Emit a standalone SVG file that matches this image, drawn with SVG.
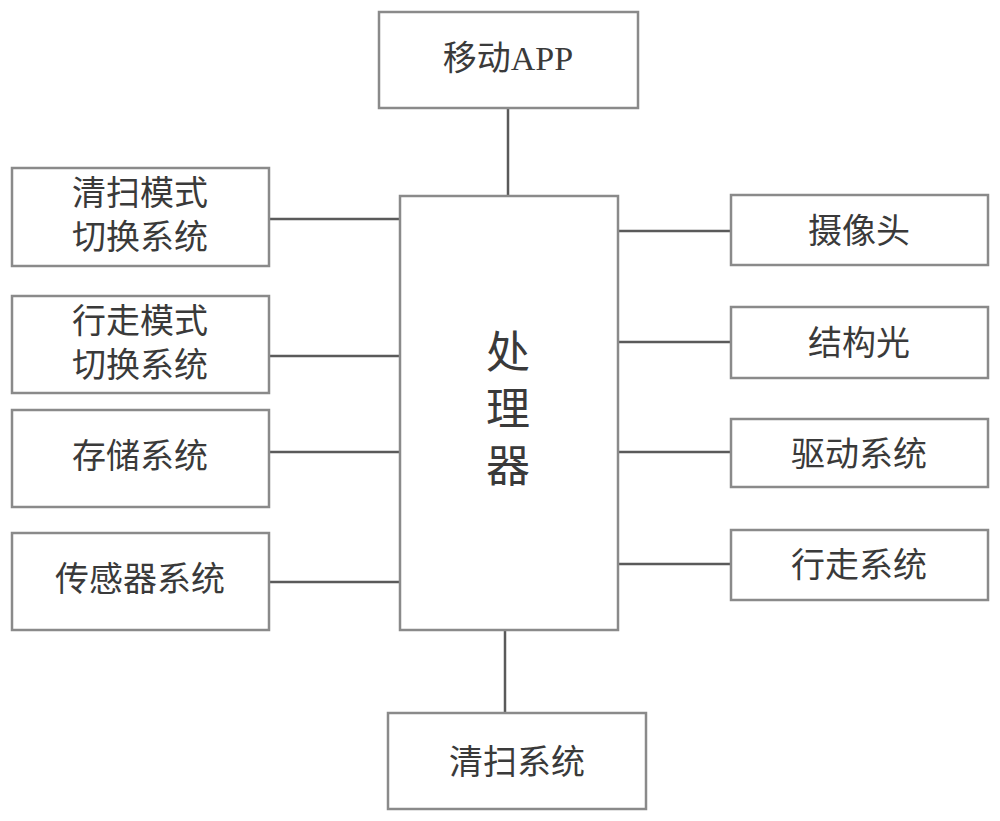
<svg xmlns="http://www.w3.org/2000/svg" width="1000" height="821" viewBox="0 0 1000 821">
<style>
.box{fill:#fff;stroke:#8a8a8a;stroke-width:2.5}
.ln{stroke:#5a5a5a;stroke-width:2.5;fill:none}
text{font-family:"Liberation Sans","Noto Sans CJK SC",sans-serif;font-size:34px;fill:#3a3a3a;text-anchor:middle;dominant-baseline:central}
.big{font-size:44px}
</style>
<rect width="1000" height="821" fill="#fff"/>
<g id="connectors">
<line class="ln" x1="508" y1="108" x2="508" y2="196"/>
<line class="ln" x1="269" y1="219" x2="400" y2="219"/>
<line class="ln" x1="269" y1="356" x2="400" y2="356"/>
<line class="ln" x1="269" y1="452" x2="400" y2="452"/>
<line class="ln" x1="269" y1="582" x2="400" y2="582"/>
<line class="ln" x1="618" y1="231" x2="731" y2="231"/>
<line class="ln" x1="618" y1="342" x2="731" y2="342"/>
<line class="ln" x1="618" y1="452" x2="731" y2="452"/>
<line class="ln" x1="618" y1="564" x2="731" y2="564"/>
<line class="ln" x1="505" y1="630" x2="505" y2="713"/>
</g>
<g id="app"><rect class="box" x="379" y="12" width="259" height="96"/><text x="508" y="58">移动<tspan font-family="'Liberation Serif',serif">APP</tspan></text></g>
<g id="processor"><rect class="box" x="400" y="196" width="218" height="434"/>
<text class="big" x="508" y="352">处</text><text class="big" x="508" y="409">理</text><text class="big" x="508" y="466">器</text></g>
<g id="clean-mode"><rect class="box" x="12" y="168" width="257" height="98"/><text x="140" y="193">清扫模式</text><text x="140" y="237">切换系统</text></g>
<g id="walk-mode"><rect class="box" x="12" y="296" width="257" height="97"/><text x="140" y="321">行走模式</text><text x="140" y="365">切换系统</text></g>
<g id="storage"><rect class="box" x="12" y="410" width="257" height="97"/><text x="140" y="456">存储系统</text></g>
<g id="sensor"><rect class="box" x="12" y="533" width="257" height="97"/><text x="140" y="579">传感器系统</text></g>
<g id="camera"><rect class="box" x="731" y="195" width="257" height="70"/><text x="859" y="231">摄像头</text></g>
<g id="structured-light"><rect class="box" x="731" y="307" width="257" height="71"/><text x="859" y="343">结构光</text></g>
<g id="drive"><rect class="box" x="731" y="419" width="257" height="68"/><text x="859" y="454">驱动系统</text></g>
<g id="walk"><rect class="box" x="731" y="530" width="257" height="70"/><text x="859" y="565">行走系统</text></g>
<g id="clean"><rect class="box" x="388" y="713" width="258" height="96"/><text x="517" y="762">清扫系统</text></g>
</svg>
